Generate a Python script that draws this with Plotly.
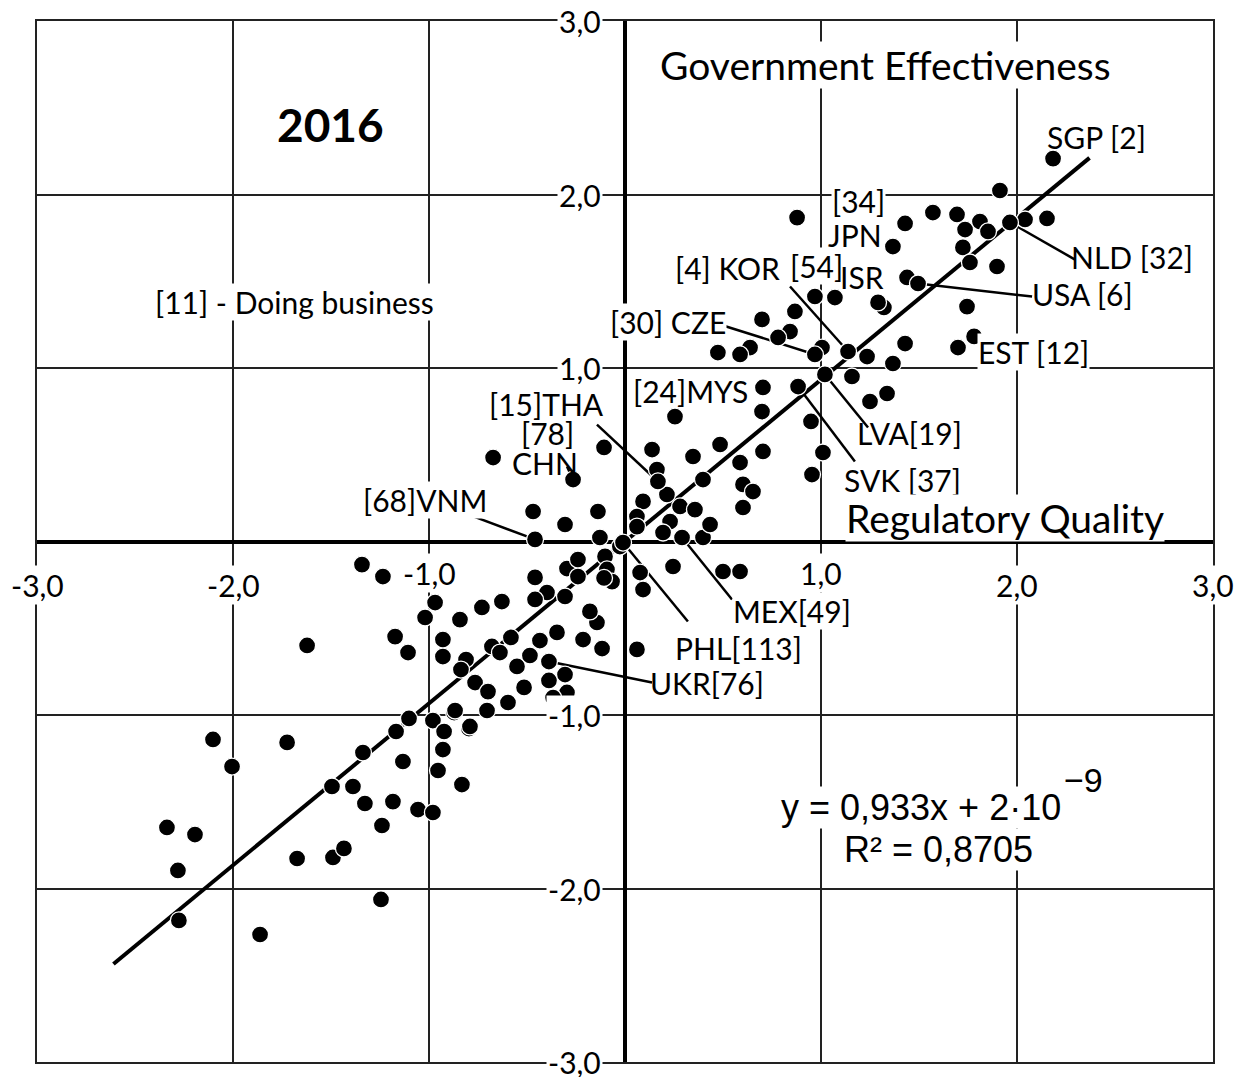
import numpy as np
import plotly.graph_objects as go

# ---------------- data (Regulatory Quality = x, Government Effectiveness = y) ----------------
named_codes = ["SGP", "NLD", "USA", "JPN", "ISR", "KOR", "CZE", "EST", "LVA", "SVK",
               "MYS", "THA", "CHN", "VNM", "MEX", "PHL", "UKR"]
named_rq = [2.184, 1.964, 1.495, 1.367, 1.291, 1.138, 0.969, 1.781, 1.020, 0.883,
            0.255, 0.168, -0.265, -0.459, 0.291, -0.010, -0.388]
named_ge = [2.207, 1.839, 1.487, 1.700, 1.378, 1.095, 1.078, 1.182, 0.963, 0.893,
            0.720, 0.346, 0.357, 0.012, 0.023, -0.006, -0.692]

other_rq = [
    -1.622, -2.102, -1.724, -2.005, -2.337, -2.194, -2.281, -2.276, -1.862, -1.673,
    -1.490, -1.434, -1.245, -1.495, -1.388, -1.327, -1.184, -1.056, -0.980, -1.240,
    -1.337, -1.133, -0.954, -0.832, -0.929, -1.168, -1.102, -0.980, -0.872, -0.923,
    -0.796, -1.342, -1.235, -0.969, -1.020, -0.842, -0.730, -0.628, -1.173, -1.107,
    -0.929, -0.929, -0.811, -0.837, -0.765, -0.699, -0.679, -0.638, -0.582, -0.551,
    -0.515, -0.597, -0.704, -0.867, -0.791, -0.485, -0.434, -0.347, -0.388, -0.306,
    -0.296, -0.367, -0.214, -0.143, -0.179, -0.117, -0.459, -0.398, -0.459, -0.306,
    -0.296, -0.240, -0.240, -0.102, -0.092, -0.066, -0.026, 0.061, 0.077, 0.092,
    -0.306, -0.138, -0.128, -0.469, -0.673, -0.107, 0.138, 0.163, 0.214, 0.092,
    0.061, 0.061, 0.281, 0.357, 0.230, 0.194, 0.398, 0.434, 0.347, 0.398,
    0.485, 0.587, 0.602, 0.653, 0.602, 0.704, 0.245, 0.500, 0.587, 0.699,
    0.704, 0.949, 1.010, 0.954, 0.699, 0.867, 0.842, 0.781, 0.638, 0.587,
    0.474, 1.005, 1.235, 1.367, 1.429, 1.158, 1.250, 1.337, 0.969, 1.071,
    0.878, 1.321, 1.439, 1.429, 1.571, 1.694, 1.811, 1.735, 1.852, 1.724,
    1.760, 1.898, 1.745, 1.699, 1.913, 2.041, 2.153, -0.107,
]
other_ge = [
    -0.599, -1.141, -1.158, -1.297, -1.648, -1.689, -1.896, -2.184, -2.265, -1.827,
    -1.821, -1.769, -2.063, -1.412, -1.412, -1.510, -1.499, -1.545, -1.562, -1.637,
    -1.216, -1.268, -1.320, -1.401, -1.199, -1.095, -1.020, -1.032, -0.986, -1.095,
    -1.078, -0.133, -0.202, -0.352, -0.438, -0.450, -0.380, -0.346, -0.548, -0.640,
    -0.565, -0.663, -0.680, -0.738, -0.813, -0.865, -0.605, -0.640, -0.553, -0.720,
    -0.841, -0.928, -0.974, -0.974, -1.066, -0.657, -0.571, -0.524, -0.801, -0.767,
    -0.870, -0.899, -0.565, -0.467, -0.403, -0.617, -0.207, -0.294, -0.334, -0.317,
    -0.156, -0.104, -0.202, -0.086, -0.161, -0.231, -0.029, -0.622, -0.179, -0.277,
    0.098, 0.173, 0.023, 0.173, 0.484, 0.542, 0.530, 0.415, 0.271, 0.231,
    0.144, 0.086, 0.202, 0.184, 0.115, 0.052, 0.023, 0.098, 0.490, 0.357,
    0.559, 0.455, 0.329, 0.288, 0.196, 0.519, -0.144, -0.173, -0.173, 0.749,
    0.888, 0.692, 0.513, 0.386, 1.280, 1.326, 1.210, 1.176, 1.118, 1.078,
    1.089, 1.118, 1.066, 1.026, 1.141, 0.951, 0.807, 0.853, 1.412, 1.406,
    1.867, 1.349, 1.522, 1.833, 1.896, 1.885, 1.844, 1.798, 1.787, 1.695,
    1.608, 1.585, 1.354, 1.118, 2.023, 1.856, 1.862, -0.210,
]

# trend line
slope = 0.933
intercept = 2e-9
trend_x_range = [-2.61, 2.37]

tick_vals = [-3, -2, -1, 1, 2, 3]
tick_text = ["-3,0", "-2,0", "-1,0", "1,0", "2,0", "3,0"]

# label texts: (text, x, y, white box behind?) text centres in data units
label_texts = [
    ("SGP [2]", 2.408, 2.334, False),
    ("[34]", 1.189, 1.960, True),
    ("JPN", 1.173, 1.769, False),
    ("NLD [32]", 2.587, 1.637, False),
    ("[4] KOR", 0.525, 1.579, False),
    ("[54]", 0.975, 1.590, True),
    ("ISR", 1.208, 1.522, False),
    ("USA [6]", 2.332, 1.429, False),
    ("[30] CZE", 0.219, 1.268, True),
    ("EST [12]", 2.085, 1.095, True),
    ("[24]MYS", 0.332, 0.870, False),
    ("[15]THA", -0.398, 0.795, False),
    ("[78]", -0.393, 0.628, False),
    ("CHN", -0.408, 0.450, False),
    ("LVA[19]", 1.454, 0.628, False),
    ("SVK [37]", 1.418, 0.357, False),
    ("[68]VNM", -1.020, 0.242, True),
    ("MEX[49]", 0.852, -0.403, True),
    ("PHL[113]", 0.577, -0.611, False),
    ("UKR[76]", 0.418, -0.813, False),
]
# leader lines: country -> end point near its label
leader_ends = {
    "NLD": (2.296, 1.625),
    "USA": (2.077, 1.412),
    "KOR": (0.842, 1.470),
    "CZE": (0.500, 1.245),
    "LVA": (1.240, 0.657),
    "SVK": (1.173, 0.461),
    "THA": (-0.143, 0.674),
    "CHN": (-0.296, 0.432),
    "VNM": (-0.801, 0.156),
    "MEX": (0.546, -0.334),
    "PHL": (0.321, -0.461),
    "UKR": (0.138, -0.813),
}

# ---------------- figure ----------------
fig = go.Figure()

shapes = []
for code, (ex, ey) in leader_ends.items():
    i = named_codes.index(code)
    shapes.append(dict(type="line", xref="x", yref="y",
                       x0=named_rq[i], y0=named_ge[i], x1=ex, y1=ey,
                       line=dict(color="black", width=2.5), layer="between"))

tx = np.array(trend_x_range)
fig.add_trace(go.Scatter(x=tx, y=slope * tx + intercept, mode="lines",
                         line=dict(color="black", width=4), hoverinfo="skip",
                         showlegend=False))

all_rq = other_rq + named_rq
all_ge = other_ge + named_ge
fig.add_trace(go.Scatter(x=all_rq, y=all_ge, mode="markers",
                         marker=dict(size=17, color="black",
                                     line=dict(color="white", width=1.3)),
                         showlegend=False))

FONT = "Lato, 'Open Sans', sans-serif"
ARIAL = "'Liberation Sans', Arial, sans-serif"
ann = []
for t, x, y, box in label_texts:
    a = dict(x=x, y=y, xref="x", yref="y", text=t, showarrow=False, borderpad=0,
             font=dict(family=FONT, size=30, color="black"))
    if box:
        a["bgcolor"] = "white"
    ann.append(a)

# tick labels (with white background that interrupts the grid)
for v, t in zip(tick_vals, tick_text):
    ann.append(dict(x=v, y=-0.18 if abs(v) == 1 else -0.25, xref="x", yref="y", text=t,
                    showarrow=False, bgcolor="white", borderpad=1,
                    font=dict(family=FONT, size=30, color="black")))
    ann.append(dict(x=-0.11, y=v, xref="x", yref="y", text=t, xanchor="right",
                    showarrow=False, bgcolor="white", borderpad=1,
                    font=dict(family=FONT, size=30, color="black")))

ann += [
    dict(x=-1.505, y=2.403, xref="x", yref="y", text="<b>2016</b>", showarrow=False,
         font=dict(family=FONT, size=46, color="black")),
    dict(x=1.327, y=2.749, xref="x", yref="y", text="Government Effectiveness",
         showarrow=False, bgcolor="white", borderpad=0,
         font=dict(family=FONT, size=39, color="black")),
    dict(x=1.939, y=0.138, xref="x", yref="y", text="Regulatory Quality",
         showarrow=False, bgcolor="white", borderpad=0,
         font=dict(family=FONT, size=39, color="black")),
    dict(x=-1.684, y=1.383, xref="x", yref="y", text="[11] - Doing business",
         showarrow=False, bgcolor="white", borderpad=0,
         font=dict(family=FONT, size=30, color="black")),
    dict(x=2.230, y=-1.533, xref="x", yref="y", xanchor="right",
         text="y = 0,933x + 2·10", showarrow=False, bgcolor="white", borderpad=0,
         font=dict(family=ARIAL, size=36, color="black")),
    dict(x=2.228, y=-1.372, xref="x", yref="y", xanchor="left",
         text="−9", showarrow=False,
         font=dict(family=ARIAL, size=34, color="black")),
    dict(x=1.600, y=-1.775, xref="x", yref="y", text="R² = 0,8705", showarrow=False,
         bgcolor="white", borderpad=0,
         font=dict(family=ARIAL, size=36, color="black")),
]

axis_common = dict(range=[-3, 3], dtick=1, tick0=0, showgrid=True, gridcolor="#222",
                   gridwidth=1.6, zeroline=True, zerolinecolor="black", zerolinewidth=4,
                   showline=True, linecolor="#222", linewidth=2, mirror=True,
                   showticklabels=False, ticks="", fixedrange=True)

fig.update_layout(
    width=1242, height=1077,
    margin=dict(l=37, r=29, t=21, b=15),
    paper_bgcolor="white", plot_bgcolor="white",
    xaxis=axis_common, yaxis=axis_common,
    shapes=shapes, annotations=ann,
)

fig.write_html("out.html", config={"displayModeBar": False},
               post_script="document.body.style.margin='0px';")
